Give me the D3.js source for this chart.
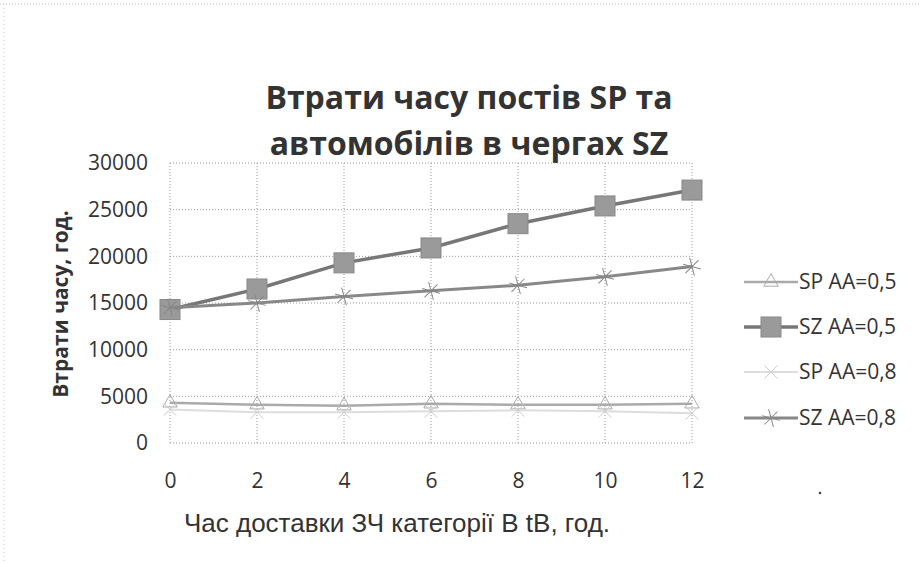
<!DOCTYPE html>
<html>
<head>
<meta charset="utf-8">
<script src="https://cdnjs.cloudflare.com/ajax/libs/d3/7.8.5/d3.min.js"></script>
<style>
  body { margin: 0; background: #fff; }
  svg { display: block; }
</style>
</head>
<body>
<div id="chart"></div>
<script>
// data
var hours = [0, 2, 4, 6, 8, 10, 12];
var spAA05 = [4300, 4100, 4000, 4200, 4100, 4100, 4200];
var szAA05 = [14300, 16500, 19300, 20900, 23500, 25400, 27100];
var spAA08 = [3600, 3300, 3300, 3400, 3500, 3400, 3200];
var szAA08 = [14500, 15000, 15700, 16300, 16900, 17800, 18900];
var yTicks = [0, 5000, 10000, 15000, 20000, 25000, 30000];
var seriesNames = ["SP AA=0,5", "SZ AA=0,5", "SP AA=0,8", "SZ AA=0,8"];

var W = 921, H = 564;
var margin = { top: 163, right: 229, bottom: 121, left: 170 },
  width = W - margin.left - margin.right,
  height = H - margin.top - margin.bottom;

var svg = d3.select("#chart").append("svg")
  .attr("width", W).attr("height", H);

// faint scan border
svg.append("line").attr("x1", 0).attr("x2", W).attr("y1", 4).attr("y2", 4)
  .style("stroke", "#bbb").style("stroke-dasharray", "1,2");
svg.append("line").attr("x1", 4).attr("x2", 4).attr("y1", 4).attr("y2", H)
  .style("stroke", "#ccc").style("stroke-dasharray", "1,3");

// title
var title = svg.append("text")
  .attr("text-anchor", "middle")
  .style("font-family", "'Open Sans', sans-serif")
  .style("font-weight", "bold").style("font-size", "32px")
  .style("fill", "#333");
title.append("tspan").attr("x", 469).attr("y", 109).text("Втрати часу постів  SP та");
title.append("tspan").attr("x", 469).attr("y", 155).text("автомобілів в  чергах SZ");

var g = svg.append("g")
  .attr("transform", "translate(" + margin.left + "," + margin.top + ")");

var x = d3.scaleLinear().domain([0, 12]).range([0, width]);
var y = d3.scaleLinear().domain([0, 30000]).range([height, 0]);

// gridlines
g.append("g").selectAll("line").data(yTicks).enter().append("line")
  .attr("x1", 0).attr("x2", width)
  .attr("y1", d => y(d)).attr("y2", d => y(d))
  .style("stroke", "#999").style("stroke-dasharray", "1,2");
g.append("g").selectAll("line").data(hours).enter().append("line")
  .attr("x1", d => x(d)).attr("x2", d => x(d))
  .attr("y1", 0).attr("y2", height)
  .style("stroke", "#999").style("stroke-dasharray", "1,2");

// axes labels
var yAxis = g.append("g").call(d3.axisLeft(y).tickValues(yTicks).tickSize(0).tickPadding(22).tickFormat(d3.format("d")));
yAxis.select(".domain").remove();
yAxis.selectAll("text").style("font-family", "'Open Sans', sans-serif").style("font-size", "21px").style("fill", "#333");

var xAxis = g.append("g").attr("transform", "translate(0," + height + ")")
  .call(d3.axisBottom(x).tickValues(hours).tickSize(0).tickPadding(30));
xAxis.select(".domain").remove();
xAxis.selectAll("text").style("font-family", "'Open Sans', sans-serif").style("font-size", "21px").style("fill", "#333");

svg.append("text")
  .attr("transform", "translate(68,304) rotate(-90)")
  .attr("text-anchor", "middle")
  .style("font-family", "'Open Sans', sans-serif").style("font-weight", "bold")
  .style("font-size", "21px").style("fill", "#333")
  .text("Втрати часу, год.");

svg.append("text")
  .attr("x", 397).attr("y", 532).attr("text-anchor", "middle")
  .style("font-family", "'Liberation Sans', Arial, sans-serif")
  .style("font-size", "26px").style("fill", "#333")
  .text("Час доставки ЗЧ категорії В tB, год.");

// series
var series = [
  { name: seriesNames[0], values: spAA05, stroke: "#aaa", width: 2.5, marker: "triangle" },
  { name: seriesNames[1], values: szAA05, stroke: "#777", width: 3.5, marker: "square" },
  { name: seriesNames[2], values: spAA08, stroke: "#ddd", width: 2, marker: "x" },
  { name: seriesNames[3], values: szAA08, stroke: "#888", width: 3, marker: "star" }
];

var line = d3.line().x((d, i) => x(hours[i])).y(d => y(d));

function drawMarker(sel, s, cx, cy) {
  if (s.marker === "square") {
    sel.append("rect").attr("x", cx - 10).attr("y", cy - 10).attr("width", 20).attr("height", 20)
      .style("fill", "#9a9a9a").style("stroke", "#888");
  } else if (s.marker === "triangle") {
    sel.append("path").attr("d", d3.symbol().type(d3.symbolTriangle).size(90)())
      .attr("transform", "translate(" + cx + "," + cy + ")")
      .style("fill", "none").style("stroke", "#aaa").style("stroke-width", 1);
  } else if (s.marker === "x") {
    sel.append("path").attr("d", d3.symbol().type(d3.symbolTimes).size(110)())
      .attr("transform", "translate(" + cx + "," + cy + ")")
      .style("fill", "none").style("stroke", "#ccc").style("stroke-width", 1);
  } else {
    sel.append("path").attr("d", d3.symbol().type(d3.symbolAsterisk).size(240)())
      .attr("transform", "translate(" + cx + "," + cy + ") rotate(45)")
      .style("fill", "none").style("stroke", "#888").style("stroke-width", 1);
  }
}

series.forEach(function (s) {
  g.append("path").datum(s.values).attr("d", line)
    .style("fill", "none").style("stroke", s.stroke).style("stroke-width", s.width);
  var mg = g.append("g");
  s.values.forEach(function (v, i) { drawMarker(mg, s, x(hours[i]), y(v)); });
});

// legend
var legendY = [282, 327, 372, 418];
series.forEach(function (s, i) {
  var lg = svg.append("g").attr("transform", "translate(0," + legendY[i] + ")");
  lg.append("line").attr("x1", 744).attr("x2", 798).attr("y1", 0).attr("y2", 0)
    .style("stroke", s.stroke).style("stroke-width", s.width);
  drawMarker(lg, s, 771, 0);
  lg.append("text").attr("x", 799).attr("y", 7)
    .style("font-family", "'Open Sans', sans-serif").style("font-size", "21px").style("fill", "#333")
    .text(s.name);
});

// small dot below legend
svg.append("circle").attr("cx", 820).attr("cy", 493).attr("r", 1.3).style("fill", "#444");
</script>
</body>
</html>
